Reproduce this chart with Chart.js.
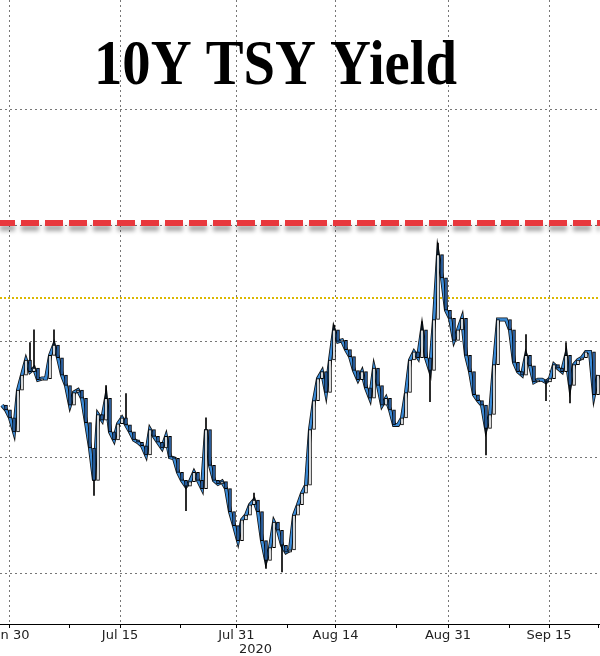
<!DOCTYPE html>
<html><head><meta charset="utf-8">
<script src="https://cdn.jsdelivr.net/npm/chart.js@4.4.1/dist/chart.umd.min.js"></script>
<style>html,body{margin:0;padding:0;background:#fff}#wrap{width:600px;height:656px;position:relative}</style>
</head><body><div id="wrap"><canvas id="c" width="600" height="656"></canvas></div>
<script>
// ---- data ----
const chartTitle = '10Y TSY Yield';
const yearLabel = '2020';
const yearPos = 63.9;             // x-position (sample units) of the year label
// closing yield (%) per sample
const closes = [
0.645,0.641,0.634,0.622,0.658,0.671,0.684,0.674,0.677,0.667,
0.668,0.668,0.688,0.697,0.686,0.671,0.662,0.645,0.656,0.658,
0.651,0.630,0.608,0.580,0.637,0.632,0.651,0.622,0.615,0.629,
0.634,0.628,0.622,0.615,0.613,0.610,0.602,0.624,0.618,0.613,
0.608,0.618,0.600,0.599,0.587,0.580,0.575,0.579,0.587,0.580,
0.573,0.624,0.593,0.580,0.577,0.579,0.573,0.553,0.541,0.528,
0.546,0.550,0.559,0.563,0.553,0.528,0.511,0.522,0.544,0.537,
0.524,0.518,0.520,0.550,0.559,0.569,0.576,0.624,0.649,0.668,
0.674,0.656,0.684,0.710,0.700,0.701,0.693,0.687,0.675,0.667,
0.674,0.660,0.651,0.677,0.662,0.645,0.651,0.641,0.628,0.628,
0.634,0.656,0.684,0.691,0.686,0.710,0.686,0.675,0.719,0.775,
0.755,0.727,0.720,0.701,0.710,0.720,0.688,0.674,0.654,0.649,
0.645,0.625,0.637,0.680,0.719,0.719,0.719,0.710,0.682,0.674,
0.671,0.688,0.679,0.665,0.667,0.667,0.665,0.668,0.680,0.677,
0.674,0.688,0.662,0.680,0.684,0.686,0.691,0.691,0.654,0.671
];
// intraday extremes beyond the candle body: [sample index, extreme yield]
const spikeIdx = [7,8,13,23,26,31,46,51,63,66,70,83,105,107,109,121,131,136,141,142];
const spikeVal = [0.699,0.710,0.710,0.567,0.662,0.655,0.554,0.634,0.569,0.504,0.501,0.714,0.717,0.648,0.785,0.602,0.706,0.649,0.699,0.647];
// x-axis ticks (sample units) and labels ('' = minor tick)
const tickPos = [2.25,17.25,30,45,59.1,71.75,83.9,99,112,127.25,137.25,149.5];
const tickLabels = ['Jun 30','','Jul 15','','Jul 31','','Aug 14','','Aug 31','','Sep 15',''];
const yGridVals = [0.5,0.6,0.7,0.8,0.9];
const redLevel = 0.802;
const yellowLevel = 0.738;
const yMin = 0.456, yMax = 0.995;

// ---- build datasets ----
const lineData = closes.map((c,i)=>({x:i+0.5, y:c}));
const candleData = closes.map((c,i)=>({x:i+0.5, y:[i?closes[i-1]:c, c]}));
const candleFill = closes.map((c,i)=>(i && c>closes[i-1]) ? '#ffffff' : '#2c67b0');
const wickData = spikeIdx.map((k,j)=>({x:k+0.5, y:[closes[k], spikeVal[j]]}));

const overlay = {
  id:'overlay',
  beforeDatasetsDraw(chart){
    const {ctx, chartArea:a, scales:{y}} = chart;
    ctx.save();
    const yy = Math.round(y.getPixelForValue(yellowLevel));
    ctx.strokeStyle = '#dcb800'; ctx.lineWidth = 2; ctx.setLineDash([2,2]);
    ctx.beginPath(); ctx.moveTo(a.left, yy); ctx.lineTo(a.right, yy); ctx.stroke();
    ctx.restore();
  },
  afterDatasetsDraw(chart){
    const {ctx, chartArea:a, scales:{y}} = chart;
    ctx.save();
    const ry = Math.round(y.getPixelForValue(redLevel));
    ctx.strokeStyle = '#e8383d'; ctx.lineWidth = 6; ctx.setLineDash([18,6]); ctx.lineDashOffset = 3;
    ctx.shadowColor = 'rgba(0,0,0,0.35)'; ctx.shadowBlur = 4; ctx.shadowOffsetY = 5;
    ctx.beginPath(); ctx.moveTo(a.left, ry); ctx.lineTo(a.right, ry); ctx.stroke();
    ctx.restore();
    ctx.save();
    ctx.strokeStyle = '#000'; ctx.lineWidth = 1;
    ctx.beginPath(); ctx.moveTo(a.left, a.bottom+0.5); ctx.lineTo(a.right, a.bottom+0.5); ctx.stroke();
    ctx.restore();
  },
  afterDraw(chart){
    const {ctx, scales:{x}} = chart;
    ctx.save();
    ctx.fillStyle = '#000';
    ctx.font = 'bold 63px "Liberation Serif", "Times New Roman", serif';
    ctx.textBaseline = 'alphabetic';
    const w = ctx.measureText(chartTitle).width;
    ctx.translate(94, 84);
    ctx.scale(363 / w, 1);
    ctx.fillText(chartTitle, 0, 0);
    ctx.restore();
    ctx.save();
    ctx.fillStyle = '#222';
    ctx.font = '13px "DejaVu Sans"';
    ctx.textAlign = 'center'; ctx.textBaseline = 'middle';
    ctx.fillText(yearLabel, x.getPixelForValue(yearPos), 650);
    ctx.restore();
  }
};

new Chart(document.getElementById('c'), {
  type:'bar',
  data:{datasets:[
    {type:'line', data:lineData, borderColor:'#111', borderWidth:4, pointRadius:0, tension:0, order:5},
    {type:'line', data:lineData, borderColor:'#3a8ad6', borderWidth:2.4, pointRadius:0, tension:0, order:4},
    {type:'bar', data:wickData, backgroundColor:'#000', borderWidth:0, barThickness:1, grouped:false, order:2},
    {type:'bar', data:candleData, backgroundColor:candleFill, borderColor:'#000', borderWidth:1,
     borderSkipped:false, barThickness:3, grouped:false, order:1}
  ]},
  options:{
    responsive:false, animation:false, devicePixelRatio:1,
    layout:{padding:0},
    plugins:{legend:{display:false}, tooltip:{enabled:false}, title:{display:false}},
    scales:{
      x:{type:'linear', min:0, max:150, offset:false,
         afterBuildTicks(s){ s.ticks = tickPos.map(v=>({value:v})); },
         afterFit(s){ s.height = 32; s.paddingLeft = 0; s.paddingRight = 0; },
         ticks:{autoSkip:false, maxRotation:0, padding:0, color:'#222',
                font:{family:'"DejaVu Sans"', size:13},
                callback:(v,i)=>tickLabels[i]},
         grid:{offset:false, color:(c)=> (c.tick && tickLabels[c.index]) ? '#777' : 'rgba(0,0,0,0)',
               tickColor:'#000', tickLength:4, lineWidth:1, tickBorderDash:[], drawTicks:true},
         border:{display:false, dash:[2,3]}
      },
      y:{type:'linear', min:yMin, max:yMax,
         afterBuildTicks(s){ s.ticks = yGridVals.map(v=>({value:v})); },
         afterFit(s){ s.width = 0; s.paddingTop = 0; s.paddingBottom = 0; },
         ticks:{display:false},
         grid:{color:'#777', lineWidth:1, drawTicks:false},
         border:{display:false, dash:[2,3]}
      }
    }
  },
  plugins:[overlay]
});
</script>
</body></html>
